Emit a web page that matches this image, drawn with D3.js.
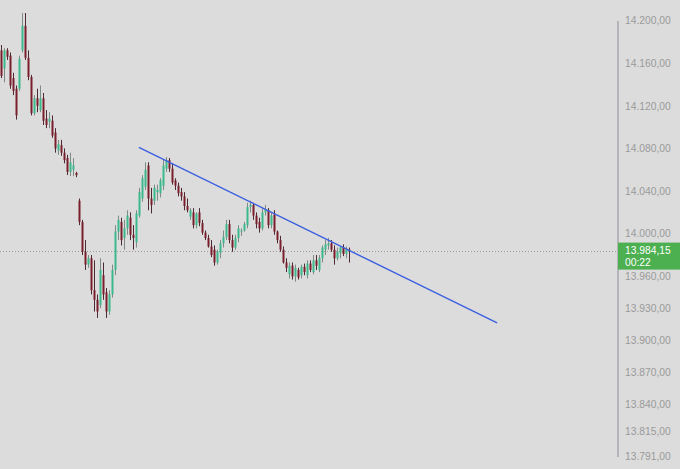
<!DOCTYPE html>
<html><head><meta charset="utf-8">
<script src="https://cdn.jsdelivr.net/npm/d3@7"></script>
<style>
html,body{margin:0;padding:0;background:#dcdcdc;overflow:hidden;}
svg{display:block;}
</style></head>
<body>
<svg id="chart" width="680" height="469"></svg>
<script>
// OHLC values
const opens  = [14172,14155,14172,14167,14146,14136,14136,14172,14195,14165,14147,14113,14127,14116,14127,14108,14105,14106,14095,14078,14083,14076,14071,14058,14060,14057,
14031,14011,13983,13971,13977,13947,13938,13933,13961,13945,13927,13943,13966,14002,14011,13996,14005,14015,13999,13992,14017,14033,14044,14064,14033,14031,14039,14038,14045,14061,14069,14061,14050,14045,14039,14035,
14026,14016,14020,14008,14020,14010,14001,13996,13988,13985,13973,13982,13991,13997,14009,13994,13987,13996,14002,14003,14008,14025,14027,14017,14011,14005,14020,14022,14008,14018,14002,13994,13985,13973,13962,13970,13960,
13966,13961,13969,13961,13972,13964,13975,13966,13977,13985,13989,13991,13985,13977,13982,13987,13981,13985];
const highs  = [14177,14174,14174,14170,14151,14139,14167,14207,14207,14172,14149,14130,14136,14139,14132,14116,14114,14111,14099,14088,14088,14080,14074,14076,14071,14058,
14033,14013,13994,13980,13980,13975,13943,13977,13973,13949,13947,13971,14008,14017,14015,14013,14022,14020,14008,14022,14043,14055,14067,14067,14043,14046,14046,14052,14069,14072,14071,14066,14052,14048,14043,14039,
14033,14024,14024,14020,14024,14013,14003,13999,13994,13989,13985,13994,14003,14013,14013,13999,13999,14008,14005,14011,14029,14031,14029,14020,14015,14024,14027,14024,14020,14022,14003,13998,13988,13977,13973,13973,13971,
13968,13971,13972,13975,13975,13980,13980,13980,13989,13994,13996,13994,13989,13987,13988,13990,13988,13987];
const lows   = [14146,14142,14163,14136,14130,14107,14134,14170,14163,14144,14111,14111,14114,14114,14102,14099,14099,14090,14076,14074,14073,14066,14055,14054,14054,14053,
14008,13980,13966,13968,13943,13927,13921,13930,13938,13921,13924,13940,13961,13994,13989,13985,13999,13994,13985,13987,14015,14030,14041,14022,14019,14027,14031,14034,14041,14058,14058,14046,14041,14035,14031,14022,
14020,14013,14005,14005,14007,13999,13994,13987,13978,13970,13971,13977,13987,13994,13991,13983,13985,13992,13998,14002,14005,14020,14013,14005,14001,14003,14017,14005,14005,13999,13991,13983,13972,13964,13958,13957,13955,
13957,13958,13961,13958,13964,13962,13966,13964,13973,13980,13985,13983,13971,13975,13977,13979,13977,13973];
const closes = [14148,14172,14166,14139,14134,14111,14164,14195,14165,14147,14113,14127,14120,14127,14106,14102,14108,14092,14080,14084,14076,14069,14058,14067,14064,14055,
14011,13983,13971,13977,13947,13938,13927,13966,13943,13927,13943,13966,14002,14013,13994,14005,14017,13999,13996,14019,14039,14052,14060,14033,14027,14043,14041,14050,14064,14069,14061,14048,14045,14038,14035,14026,
14022,14022,14008,14019,14010,14001,13996,13988,13980,13973,13983,13991,13997,14009,13994,13987,13996,14005,14003,14009,14025,14027,14017,14009,14005,14020,14023,14008,14017,14002,13994,13985,13973,13968,13970,13960,13968,
13959,13969,13964,13972,13966,13975,13970,13977,13987,13990,13991,13985,13977,13983,13987,13981,13985,13984.15];

const tickValues = [14200,14160,14120,14080,14040,14000,13960,13930,13900,13870,13840,13815,13791];
const lastPrice = 13984.15;
const countdown = "00:22";
// trend line anchors: [candle index, price]
const trendIdx = [45.8, 165.2];
const trendVal = [14081, 13916.3];

const W = 680, H = 469, axisX = 617;
const svg = d3.select("#chart");
const loc = d3.formatLocale({decimal:",", thousands:".", grouping:[3], currency:["",""]});
const fmt = loc.format(",.2f");

const x = d3.scaleLinear().domain([0, 116]).range([1.5, 349.5]);
const y = d3.scaleLinear().domain([13791, 14200]).range([456.5, 20.5]);

svg.append("rect").attr("width", W).attr("height", H).attr("fill", "#dcdcdc");

const data = opens.map((o,i)=>({i, o, h:highs[i], l:lows[i], c:closes[i]}));

// price line (dotted)
svg.append("line").attr("x1",0).attr("x2",axisX).attr("y1",Math.round(y(lastPrice))+0.5).attr("y2",Math.round(y(lastPrice))+0.5)
  .attr("stroke","#9a9a9a").attr("stroke-width",1).attr("stroke-dasharray","1,2");

const g = svg.append("g");
const up = "#3bb98c", down = "#7a1e2c";
g.selectAll("line.wick").data(data).join("line")
  .attr("x1", d=>x(d.i)).attr("x2", d=>x(d.i))
  .attr("y1", d=>y(d.h)).attr("y2", d=>y(d.l))
  .attr("stroke", d=> d.c>=d.o ? "#7d8a86" : "#4d2a31").attr("stroke-width",1);
g.selectAll("rect.body").data(data).join("rect")
  .attr("x", d=>x(d.i)-1).attr("width", 2)
  .attr("y", d=>y(Math.max(d.o,d.c)))
  .attr("height", d=>Math.max(1, Math.abs(y(d.o)-y(d.c))))
  .attr("fill", d=> d.c>=d.o ? up : down);

// trend line
svg.append("line")
  .attr("x1", x(trendIdx[0])).attr("y1", y(trendVal[0]))
  .attr("x2", x(trendIdx[1])).attr("y2", y(trendVal[1]))
  .attr("stroke","#3b5fe0").attr("stroke-width",1.4);

// right axis
svg.append("rect").attr("x",axisX).attr("y",0).attr("width",W-axisX).attr("height",H).attr("fill","#dcdcdc");
const axis = d3.axisRight(y).tickValues(tickValues).tickFormat(fmt).tickSize(0).tickPadding(8);
const ag = svg.append("g").attr("transform",`translate(${axisX},0)`).call(axis);
ag.select(".domain").attr("stroke","#8e8e96").attr("stroke-width",1).attr("transform","translate(0.5,0)");
ag.selectAll("text").attr("fill","#9a9a9a").style("font-family","'Liberation Sans', Arial, sans-serif").style("font-size","10.3px");

// last price label
const ly = y(lastPrice);
svg.append("rect").attr("x",axisX+1).attr("y",ly-8).attr("width",W-axisX-1).attr("height",27).attr("fill","#4caf50");
svg.append("text").attr("x",625).attr("y",ly+3.8).text(fmt(lastPrice))
  .attr("fill","#ffffff").style("font-family","'Liberation Sans', Arial, sans-serif").style("font-size","10.3px");
svg.append("text").attr("x",625).attr("y",ly+15.5).text(countdown)
  .attr("fill","#ffffff").style("font-family","'Liberation Sans', Arial, sans-serif").style("font-size","10.3px");
</script>
</body></html>
